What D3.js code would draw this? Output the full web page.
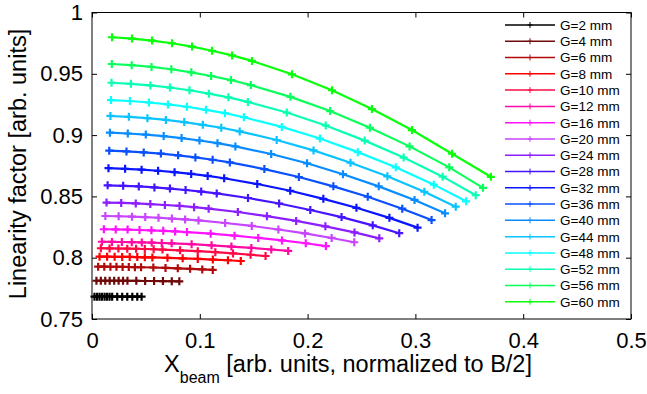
<!DOCTYPE html>
<html>
<head>
<meta charset="utf-8">
<script src="https://cdn.jsdelivr.net/npm/d3@7"></script>
<style>
  body { margin: 0; background: #fff; }
  text { font-family: "Liberation Sans", Arial, sans-serif; }
</style>
</head>
<body>
<svg id="chart" width="647" height="394"></svg>
<script>
// gap sizes and their colours (MATLAB-like palette)
const gaps = [2, 4, 6, 8, 10, 12, 16, 20, 24, 28, 32, 36, 40, 44, 48, 52, 56, 60];
const lineColors = ["#000000", "#6e0a0a", "#b00a0a", "#ff0000", "#ff0a46", "#ff0aa5", "#ff14ff", "#c846ff",
  "#8c1eff", "#4614ff", "#0a14ff", "#0a50ff", "#0a8cff", "#0ac3ff", "#0affff", "#0affb4", "#0aff5a", "#0aff0a"];

const xTicks = [0, 0.1, 0.2, 0.3, 0.4, 0.5];
const yTicks = [0.75, 0.8, 0.85, 0.9, 0.95, 1];

// beam positions, one row per gap
const xData = [
  [0.0023, 0.0047, 0.0070, 0.0093, 0.0117, 0.0140, 0.0163, 0.0187, 0.0234, 0.0280, 0.0327, 0.0374, 0.0420, 0.046],
  [0.0041, 0.0082, 0.0123, 0.0164, 0.0206, 0.0247, 0.0288, 0.0329, 0.0411, 0.0493, 0.0576, 0.0658, 0.0740, 0.081],
  [0.0057, 0.0114, 0.0171, 0.0227, 0.0284, 0.0341, 0.0398, 0.0455, 0.0569, 0.0682, 0.0796, 0.0910, 0.1023, 0.112],
  [0.0070, 0.0140, 0.0210, 0.0280, 0.0350, 0.0420, 0.0490, 0.0560, 0.0700, 0.0841, 0.0981, 0.1121, 0.1261, 0.138],
  [0.0082, 0.0163, 0.0245, 0.0327, 0.0409, 0.0490, 0.0572, 0.0654, 0.0817, 0.0981, 0.1144, 0.1308, 0.1471, 0.161],
  [0.0092, 0.0185, 0.0277, 0.0369, 0.0462, 0.0554, 0.0647, 0.0739, 0.0924, 0.1109, 0.1293, 0.1478, 0.1663, 0.182],
  [0.0110, 0.0220, 0.0330, 0.0441, 0.0551, 0.0661, 0.0771, 0.0881, 0.1101, 0.1322, 0.1542, 0.1762, 0.1983, 0.217],
  [0.0124, 0.0247, 0.0371, 0.0494, 0.0617, 0.0741, 0.0864, 0.0988, 0.1235, 0.1482, 0.1729, 0.1976, 0.2223, 0.2433],
  [0.0135, 0.0271, 0.0406, 0.0541, 0.0676, 0.0812, 0.0947, 0.1082, 0.1353, 0.1623, 0.1894, 0.2165, 0.2435, 0.2665],
  [0.0145, 0.0289, 0.0434, 0.0579, 0.0723, 0.0868, 0.1013, 0.1157, 0.1447, 0.1736, 0.2025, 0.2315, 0.2604, 0.285],
  [0.0153, 0.0307, 0.0460, 0.0613, 0.0766, 0.0920, 0.1073, 0.1226, 0.1533, 0.1839, 0.2146, 0.2453, 0.2759, 0.302],
  [0.0160, 0.0320, 0.0480, 0.0639, 0.0799, 0.0959, 0.1119, 0.1279, 0.1599, 0.1919, 0.2239, 0.2558, 0.2878, 0.315],
  [0.0166, 0.0332, 0.0499, 0.0665, 0.0831, 0.0997, 0.1164, 0.1330, 0.1662, 0.1995, 0.2328, 0.2660, 0.2992, 0.3275],
  [0.0171, 0.0342, 0.0514, 0.0685, 0.0856, 0.1028, 0.1199, 0.1370, 0.1713, 0.2055, 0.2398, 0.2740, 0.3083, 0.3374],
  [0.0176, 0.0352, 0.0528, 0.0704, 0.0881, 0.1057, 0.1233, 0.1409, 0.1761, 0.2114, 0.2466, 0.2818, 0.3171, 0.347],
  [0.0181, 0.0361, 0.0542, 0.0723, 0.0904, 0.1084, 0.1265, 0.1446, 0.1807, 0.2168, 0.2530, 0.2891, 0.3253, 0.356],
  [0.0184, 0.0368, 0.0552, 0.0736, 0.0921, 0.1105, 0.1289, 0.1473, 0.1841, 0.2209, 0.2578, 0.2946, 0.3314, 0.3627],
  [0.0186, 0.0371, 0.0557, 0.0742, 0.0928, 0.1113, 0.1299, 0.1484, 0.1855, 0.2226, 0.2597, 0.2968, 0.3340, 0.370]
];

// linearity factor, one row per gap
const yData = [
  [0.7682, 0.7682, 0.7682, 0.7682, 0.7682, 0.7682, 0.7682, 0.7682, 0.7682, 0.7682, 0.7682, 0.7682, 0.7682, 0.7682],
  [0.7812, 0.7812, 0.7812, 0.7812, 0.7812, 0.7811, 0.7811, 0.7811, 0.7811, 0.781, 0.781, 0.7809, 0.7808, 0.7807],
  [0.7927, 0.7927, 0.7926, 0.7926, 0.7925, 0.7924, 0.7923, 0.7922, 0.792, 0.7917, 0.7913, 0.7909, 0.7904, 0.79],
  [0.8008, 0.8008, 0.8007, 0.8006, 0.8006, 0.8005, 0.8003, 0.8002, 0.7999, 0.7995, 0.799, 0.7985, 0.7979, 0.7973],
  [0.8077, 0.8076, 0.8075, 0.8074, 0.8073, 0.8071, 0.8069, 0.8066, 0.806, 0.8053, 0.8045, 0.8035, 0.8024, 0.8014],
  [0.813, 0.8129, 0.8128, 0.8127, 0.8125, 0.8123, 0.812, 0.8117, 0.811, 0.8101, 0.8091, 0.808, 0.8067, 0.8055],
  [0.8232, 0.8231, 0.8229, 0.8226, 0.8223, 0.8219, 0.8214, 0.8209, 0.8196, 0.818, 0.8161, 0.8141, 0.8118, 0.8095],
  [0.834, 0.8338, 0.8335, 0.8331, 0.8326, 0.8319, 0.8312, 0.8304, 0.8283, 0.8259, 0.823, 0.8198, 0.8161, 0.8126],
  [0.845, 0.8447, 0.8443, 0.8437, 0.843, 0.8422, 0.8412, 0.84, 0.8373, 0.8339, 0.83, 0.8256, 0.8206, 0.8158],
  [0.859, 0.8586, 0.8581, 0.8573, 0.8564, 0.8552, 0.8539, 0.8524, 0.8487, 0.8442, 0.8389, 0.8331, 0.8264, 0.820],
  [0.873, 0.8725, 0.8718, 0.8709, 0.8698, 0.8683, 0.8667, 0.8648, 0.8601, 0.8546, 0.848, 0.8407, 0.8325, 0.8245],
  [0.8873, 0.8867, 0.8859, 0.8849, 0.8835, 0.8818, 0.8799, 0.8777, 0.8723, 0.8658, 0.8582, 0.8497, 0.84, 0.8307],
  [0.902, 0.9013, 0.9004, 0.8992, 0.8976, 0.8956, 0.8934, 0.8908, 0.8846, 0.877, 0.8681, 0.8582, 0.8471, 0.8362],
  [0.9156, 0.9149, 0.9138, 0.9124, 0.9106, 0.9084, 0.906, 0.903, 0.896, 0.8875, 0.8775, 0.8664, 0.8538, 0.8416],
  [0.9286, 0.9278, 0.9266, 0.925, 0.9231, 0.9206, 0.9179, 0.9146, 0.9067, 0.8972, 0.8861, 0.8737, 0.8596, 0.846],
  [0.9427, 0.9418, 0.9405, 0.9388, 0.9366, 0.9338, 0.9308, 0.9271, 0.9184, 0.9079, 0.8955, 0.8817, 0.8661, 0.851],
  [0.958, 0.957, 0.9556, 0.9537, 0.9512, 0.9482, 0.9449, 0.9408, 0.9312, 0.9196, 0.906, 0.8908, 0.8737, 0.857],
  [0.9798, 0.9787, 0.9771, 0.9749, 0.9722, 0.9688, 0.965, 0.9605, 0.9496, 0.9366, 0.9212, 0.9041, 0.8848, 0.866]
];

const svg = d3.select("#chart");
const plotL = 92, plotR = 631, plotT = 12.5, plotB = 319;

const x = d3.scaleLinear().domain([0, 0.5]).range([plotL, plotR]);
const y = d3.scaleLinear().domain([0.75, 1]).range([plotB, plotT]);
const fmt = d => String(+d.toFixed(2));

// axes, MATLAB style: ticks inside, box all round
svg.append("g").attr("transform", `translate(0,${plotB})`)
  .call(d3.axisBottom(x).tickValues(xTicks).tickFormat(fmt).tickSizeInner(-5).tickSizeOuter(0).tickPadding(13))
  .call(g => g.select(".domain").remove())
  .selectAll("text").attr("font-size", 22).attr("fill", "#000")
  .attr("font-family", "Liberation Sans, Arial, sans-serif");
svg.append("g").attr("transform", `translate(0,${plotT})`)
  .call(d3.axisTop(x).tickValues(xTicks).tickFormat("").tickSizeInner(-5).tickSizeOuter(0))
  .call(g => g.select(".domain").remove());
svg.append("g").attr("transform", `translate(${plotL},0)`)
  .call(d3.axisLeft(y).tickValues(yTicks).tickFormat(fmt).tickSizeInner(-5).tickSizeOuter(0).tickPadding(9))
  .call(g => g.select(".domain").remove())
  .selectAll("text").attr("font-size", 22).attr("fill", "#000")
  .attr("font-family", "Liberation Sans, Arial, sans-serif");
svg.append("g").attr("transform", `translate(${plotR},0)`)
  .call(d3.axisRight(y).tickValues(yTicks).tickFormat("").tickSizeInner(-5).tickSizeOuter(0))
  .call(g => g.select(".domain").remove());

svg.append("rect")
  .attr("x", plotL).attr("y", plotT)
  .attr("width", plotR - plotL).attr("height", plotB - plotT)
  .attr("fill", "none").attr("stroke", "#000").attr("stroke-width", 1);

// curves
const line = d3.line().x(d => x(d[0])).y(d => y(d[1]));
const plus = "M-4,0H4M0,-4V4";

gaps.forEach((g, i) => {
  const pts = xData[i].map((v, k) => [v, yData[i][k]]);
  const grp = svg.append("g");
  grp.append("path").datum(pts)
    .attr("d", line)
    .attr("fill", "none")
    .attr("stroke", lineColors[i])
    .attr("stroke-width", 2.2);
  grp.selectAll("path.mk").data(pts).enter().append("path")
    .attr("class", "mk")
    .attr("d", plus)
    .attr("transform", d => `translate(${x(d[0])},${y(d[1])})`)
    .attr("stroke", lineColors[i])
    .attr("stroke-width", 2.2);
});

// legend
const leg = svg.append("g");
gaps.forEach((g, i) => {
  const ly = 25 + i * 16.28;
  leg.append("line").attr("x1", 505).attr("x2", 555).attr("y1", ly).attr("y2", ly)
    .attr("stroke", lineColors[i]).attr("stroke-width", 1.5);
  leg.append("path").attr("d", "M-2.5,0H2.5M0,-3V3")
    .attr("transform", `translate(530,${ly})`)
    .attr("stroke", lineColors[i]).attr("stroke-width", 1);
  leg.append("text").attr("x", 560).attr("y", ly).attr("dy", "0.36em")
    .attr("font-size", 13.5).text(`G=${g} mm`);
});

// axis titles
svg.append("text")
  .attr("transform", "translate(26,164) rotate(-90)")
  .attr("text-anchor", "middle")
  .attr("font-size", 23.5)
  .text("Linearity factor [arb. units]");

const xt = svg.append("text")
  .attr("x", 348).attr("y", 372)
  .attr("text-anchor", "middle")
  .attr("font-size", 23.5);
xt.append("tspan").text("X");
xt.append("tspan").attr("dy", 11).attr("font-size", 16).text("beam");
xt.append("tspan").attr("dy", -11).text(" [arb. units, normalized to B/2]");
</script>
</body>
</html>
